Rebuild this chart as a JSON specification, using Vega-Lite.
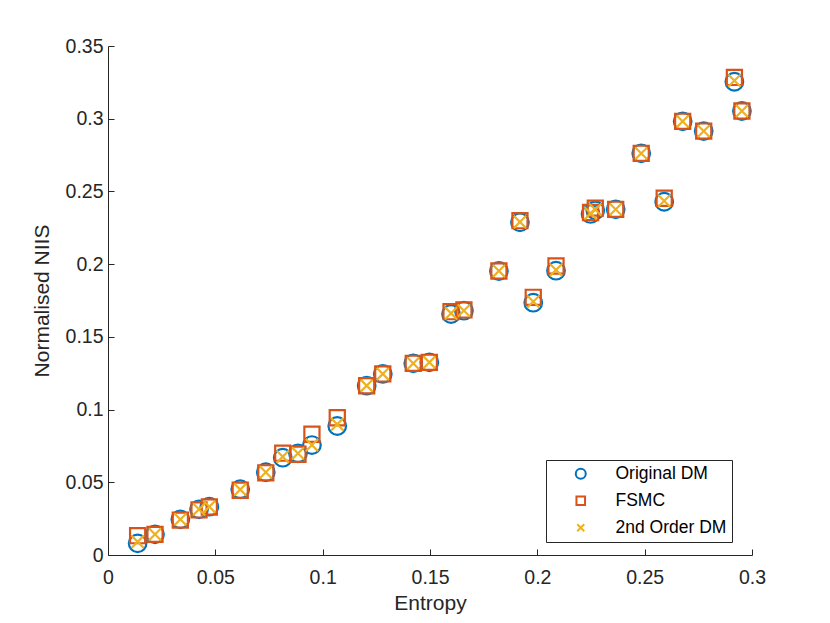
{
  "$schema": "https://vega.github.io/schema/vega-lite/v6.json",
  "width": 644,
  "height": 509,
  "autosize": {"type": "none"},
  "padding": {"left": 108, "top": 46, "right": 78, "bottom": 68},
  "background": "#ffffff",
  "config": {
    "view": {"stroke": null},
    "font": "Liberation Sans"
  },
  "data": {
    "values": [
      {"e": 0.0138, "v": 0.0080, "m": "Original DM"},
      {"e": 0.0219, "v": 0.0142, "m": "Original DM"},
      {"e": 0.0337, "v": 0.0245, "m": "Original DM"},
      {"e": 0.0424, "v": 0.0314, "m": "Original DM"},
      {"e": 0.0472, "v": 0.0332, "m": "Original DM"},
      {"e": 0.0616, "v": 0.0452, "m": "Original DM"},
      {"e": 0.0735, "v": 0.0569, "m": "Original DM"},
      {"e": 0.0814, "v": 0.0669, "m": "Original DM"},
      {"e": 0.0885, "v": 0.0699, "m": "Original DM"},
      {"e": 0.0950, "v": 0.0756, "m": "Original DM"},
      {"e": 0.1068, "v": 0.0887, "m": "Original DM"},
      {"e": 0.1205, "v": 0.1164, "m": "Original DM"},
      {"e": 0.1280, "v": 0.1245, "m": "Original DM"},
      {"e": 0.1422, "v": 0.1318, "m": "Original DM"},
      {"e": 0.1497, "v": 0.1325, "m": "Original DM"},
      {"e": 0.1598, "v": 0.1657, "m": "Original DM"},
      {"e": 0.1658, "v": 0.1680, "m": "Original DM"},
      {"e": 0.1821, "v": 0.1953, "m": "Original DM"},
      {"e": 0.1919, "v": 0.2288, "m": "Original DM"},
      {"e": 0.1981, "v": 0.1735, "m": "Original DM"},
      {"e": 0.2087, "v": 0.1955, "m": "Original DM"},
      {"e": 0.2248, "v": 0.2345, "m": "Original DM"},
      {"e": 0.2270, "v": 0.2370, "m": "Original DM"},
      {"e": 0.2365, "v": 0.2377, "m": "Original DM"},
      {"e": 0.2484, "v": 0.2762, "m": "Original DM"},
      {"e": 0.2591, "v": 0.2429, "m": "Original DM"},
      {"e": 0.2677, "v": 0.2982, "m": "Original DM"},
      {"e": 0.2775, "v": 0.2915, "m": "Original DM"},
      {"e": 0.2918, "v": 0.3254, "m": "Original DM"},
      {"e": 0.2953, "v": 0.3053, "m": "Original DM"},
      {"e": 0.0138, "v": 0.0133, "m": "FSMC"},
      {"e": 0.0219, "v": 0.0142, "m": "FSMC"},
      {"e": 0.0337, "v": 0.0240, "m": "FSMC"},
      {"e": 0.0424, "v": 0.0310, "m": "FSMC"},
      {"e": 0.0472, "v": 0.0330, "m": "FSMC"},
      {"e": 0.0616, "v": 0.0445, "m": "FSMC"},
      {"e": 0.0735, "v": 0.0565, "m": "FSMC"},
      {"e": 0.0814, "v": 0.0700, "m": "FSMC"},
      {"e": 0.0885, "v": 0.0693, "m": "FSMC"},
      {"e": 0.0950, "v": 0.0830, "m": "FSMC"},
      {"e": 0.1068, "v": 0.0944, "m": "FSMC"},
      {"e": 0.1205, "v": 0.1164, "m": "FSMC"},
      {"e": 0.1280, "v": 0.1245, "m": "FSMC"},
      {"e": 0.1422, "v": 0.1318, "m": "FSMC"},
      {"e": 0.1497, "v": 0.1325, "m": "FSMC"},
      {"e": 0.1598, "v": 0.1673, "m": "FSMC"},
      {"e": 0.1658, "v": 0.1685, "m": "FSMC"},
      {"e": 0.1821, "v": 0.1953, "m": "FSMC"},
      {"e": 0.1919, "v": 0.2299, "m": "FSMC"},
      {"e": 0.1981, "v": 0.1772, "m": "FSMC"},
      {"e": 0.2087, "v": 0.1987, "m": "FSMC"},
      {"e": 0.2248, "v": 0.2355, "m": "FSMC"},
      {"e": 0.2270, "v": 0.2385, "m": "FSMC"},
      {"e": 0.2365, "v": 0.2377, "m": "FSMC"},
      {"e": 0.2484, "v": 0.2762, "m": "FSMC"},
      {"e": 0.2591, "v": 0.2453, "m": "FSMC"},
      {"e": 0.2677, "v": 0.2982, "m": "FSMC"},
      {"e": 0.2775, "v": 0.2915, "m": "FSMC"},
      {"e": 0.2918, "v": 0.3284, "m": "FSMC"},
      {"e": 0.2953, "v": 0.3053, "m": "FSMC"},
      {"e": 0.0138, "v": 0.0091, "m": "2nd Order DM"},
      {"e": 0.0219, "v": 0.0142, "m": "2nd Order DM"},
      {"e": 0.0337, "v": 0.0245, "m": "2nd Order DM"},
      {"e": 0.0424, "v": 0.0314, "m": "2nd Order DM"},
      {"e": 0.0472, "v": 0.0332, "m": "2nd Order DM"},
      {"e": 0.0616, "v": 0.0450, "m": "2nd Order DM"},
      {"e": 0.0735, "v": 0.0569, "m": "2nd Order DM"},
      {"e": 0.0814, "v": 0.0676, "m": "2nd Order DM"},
      {"e": 0.0885, "v": 0.0699, "m": "2nd Order DM"},
      {"e": 0.0950, "v": 0.0756, "m": "2nd Order DM"},
      {"e": 0.1068, "v": 0.0899, "m": "2nd Order DM"},
      {"e": 0.1205, "v": 0.1164, "m": "2nd Order DM"},
      {"e": 0.1280, "v": 0.1245, "m": "2nd Order DM"},
      {"e": 0.1422, "v": 0.1318, "m": "2nd Order DM"},
      {"e": 0.1497, "v": 0.1325, "m": "2nd Order DM"},
      {"e": 0.1598, "v": 0.1662, "m": "2nd Order DM"},
      {"e": 0.1658, "v": 0.1680, "m": "2nd Order DM"},
      {"e": 0.1821, "v": 0.1953, "m": "2nd Order DM"},
      {"e": 0.1919, "v": 0.2290, "m": "2nd Order DM"},
      {"e": 0.1981, "v": 0.1742, "m": "2nd Order DM"},
      {"e": 0.2087, "v": 0.1960, "m": "2nd Order DM"},
      {"e": 0.2248, "v": 0.2350, "m": "2nd Order DM"},
      {"e": 0.2270, "v": 0.2375, "m": "2nd Order DM"},
      {"e": 0.2365, "v": 0.2377, "m": "2nd Order DM"},
      {"e": 0.2484, "v": 0.2762, "m": "2nd Order DM"},
      {"e": 0.2591, "v": 0.2435, "m": "2nd Order DM"},
      {"e": 0.2677, "v": 0.2982, "m": "2nd Order DM"},
      {"e": 0.2775, "v": 0.2915, "m": "2nd Order DM"},
      {"e": 0.2918, "v": 0.3262, "m": "2nd Order DM"},
      {"e": 0.2953, "v": 0.3053, "m": "2nd Order DM"}
    ]
  },
  "mark": {
    "type": "point",
    "filled": false,
    "strokeWidth": 2.2,
    "size": 310,
    "opacity": 1
  },
  "encoding": {
    "x": {
      "field": "e",
      "type": "quantitative",
      "scale": {"domain": [0, 0.3], "nice": false, "zero": true},
      "axis": {
        "title": "Entropy",
        "values": [0, 0.05, 0.1, 0.15, 0.2, 0.25, 0.3],
        "format": ".2~f",
        "grid": false,
        "labelFlush": false,
        "domainColor": "#262626",
        "tickColor": "#262626",
        "tickSize": -6,
        "labelPadding": 19,
        "labelFontSize": 19.5,
        "labelColor": "#262626",
        "labelFont": "Liberation Sans",
        "titleFont": "Liberation Sans",
        "titleFontSize": 21,
        "titleFontWeight": "normal",
        "titleColor": "#262626",
        "titlePadding": 6
      }
    },
    "y": {
      "field": "v",
      "type": "quantitative",
      "scale": {"domain": [0, 0.35], "nice": false, "zero": true},
      "axis": {
        "title": "Normalised NIIS",
        "values": [0, 0.05, 0.1, 0.15, 0.2, 0.25, 0.3, 0.35],
        "format": ".2~f",
        "grid": false,
        "labelFlush": false,
        "domainColor": "#262626",
        "tickColor": "#262626",
        "tickSize": -6,
        "labelPadding": 11,
        "labelFontSize": 19.5,
        "labelColor": "#262626",
        "labelFont": "Liberation Sans",
        "titleFont": "Liberation Sans",
        "titleFontSize": 21,
        "titleFontWeight": "normal",
        "titleColor": "#262626",
        "titlePadding": 13
      }
    },
    "color": {
      "field": "m",
      "type": "nominal",
      "scale": {
        "domain": ["Original DM", "FSMC", "2nd Order DM"],
        "range": ["#0072BD", "#D95319", "#EDB120"]
      },
      "legend": {
        "title": null,
        "orient": "none",
        "legendX": 438,
        "legendY": 414,
        "padding": 5,
        "strokeColor": "#262626",
        "fillColor": "#ffffff",
        "symbolOffset": 21,
        "symbolSize": 100,
        "symbolStrokeWidth": 2,
        "labelOffset": 26,
        "labelFontSize": 17.5,
        "labelFont": "Liberation Sans",
        "labelColor": "#000000",
        "rowPadding": 8,
        "labelLimit": 300
      }
    },
    "shape": {
      "field": "m",
      "type": "nominal",
      "scale": {
        "domain": ["Original DM", "FSMC", "2nd Order DM"],
        "range": ["circle", "M-0.86,-0.86H0.86V0.86H-0.86Z", "M-0.7,-0.7L0.7,0.7M0.7,-0.7L-0.7,0.7"]
      },
      "legend": null
    }
  }
}
